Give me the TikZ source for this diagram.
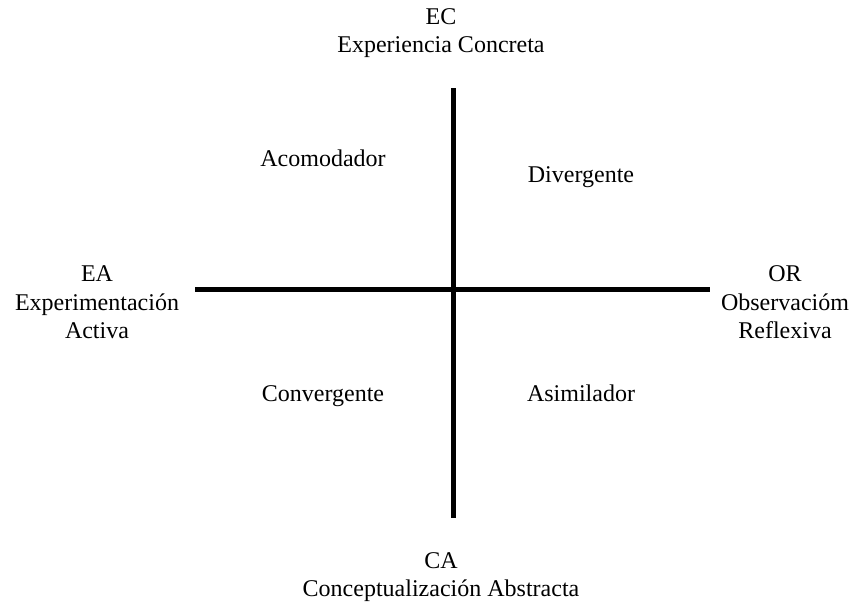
\documentclass[tikz,border=0pt]{standalone}
\usepackage{fontspec}
\setmainfont{Liberation Serif}
\begin{document}
\begin{tikzpicture}[x=1pt,y=-1pt,
    axis/.style={line width=5pt},
    lbl/.style={font=\fontsize{24}{28.5}\selectfont,align=center,inner sep=0pt}]
      \useasboundingbox (0,0) rectangle (866,602);
      \draw
        (441,33) node[lbl] (EC){EC\\Experiencia Concreta}
        (97,302.5) node[lbl] (EA){EA\\Experimentación\\Activa}
        (785,302.5) node[lbl] (OR){OR\\Observacióm\\Reflexiva}
        (441,577) node[lbl] (CA){CA\\Conceptualización Abstracta}
        (323,166) node[lbl,anchor=base] (1){Acomodador}
        (581,182) node[lbl,anchor=base] (2){Divergente}
        (323,401.5) node[lbl,anchor=base] (3){Convergente}
        (581,401.5) node[lbl,anchor=base] (4){Asimilador};
      \coordinate (top) at (453.5,88);
      \coordinate (bottom) at (453.5,518);
      \coordinate (left) at (195,289);
      \coordinate (right) at (710,289);
      \begin{scope}[axis]
        \draw (top) to (bottom);
        \draw (left) to (right);
      \end{scope}
    \end{tikzpicture}
\end{document}
